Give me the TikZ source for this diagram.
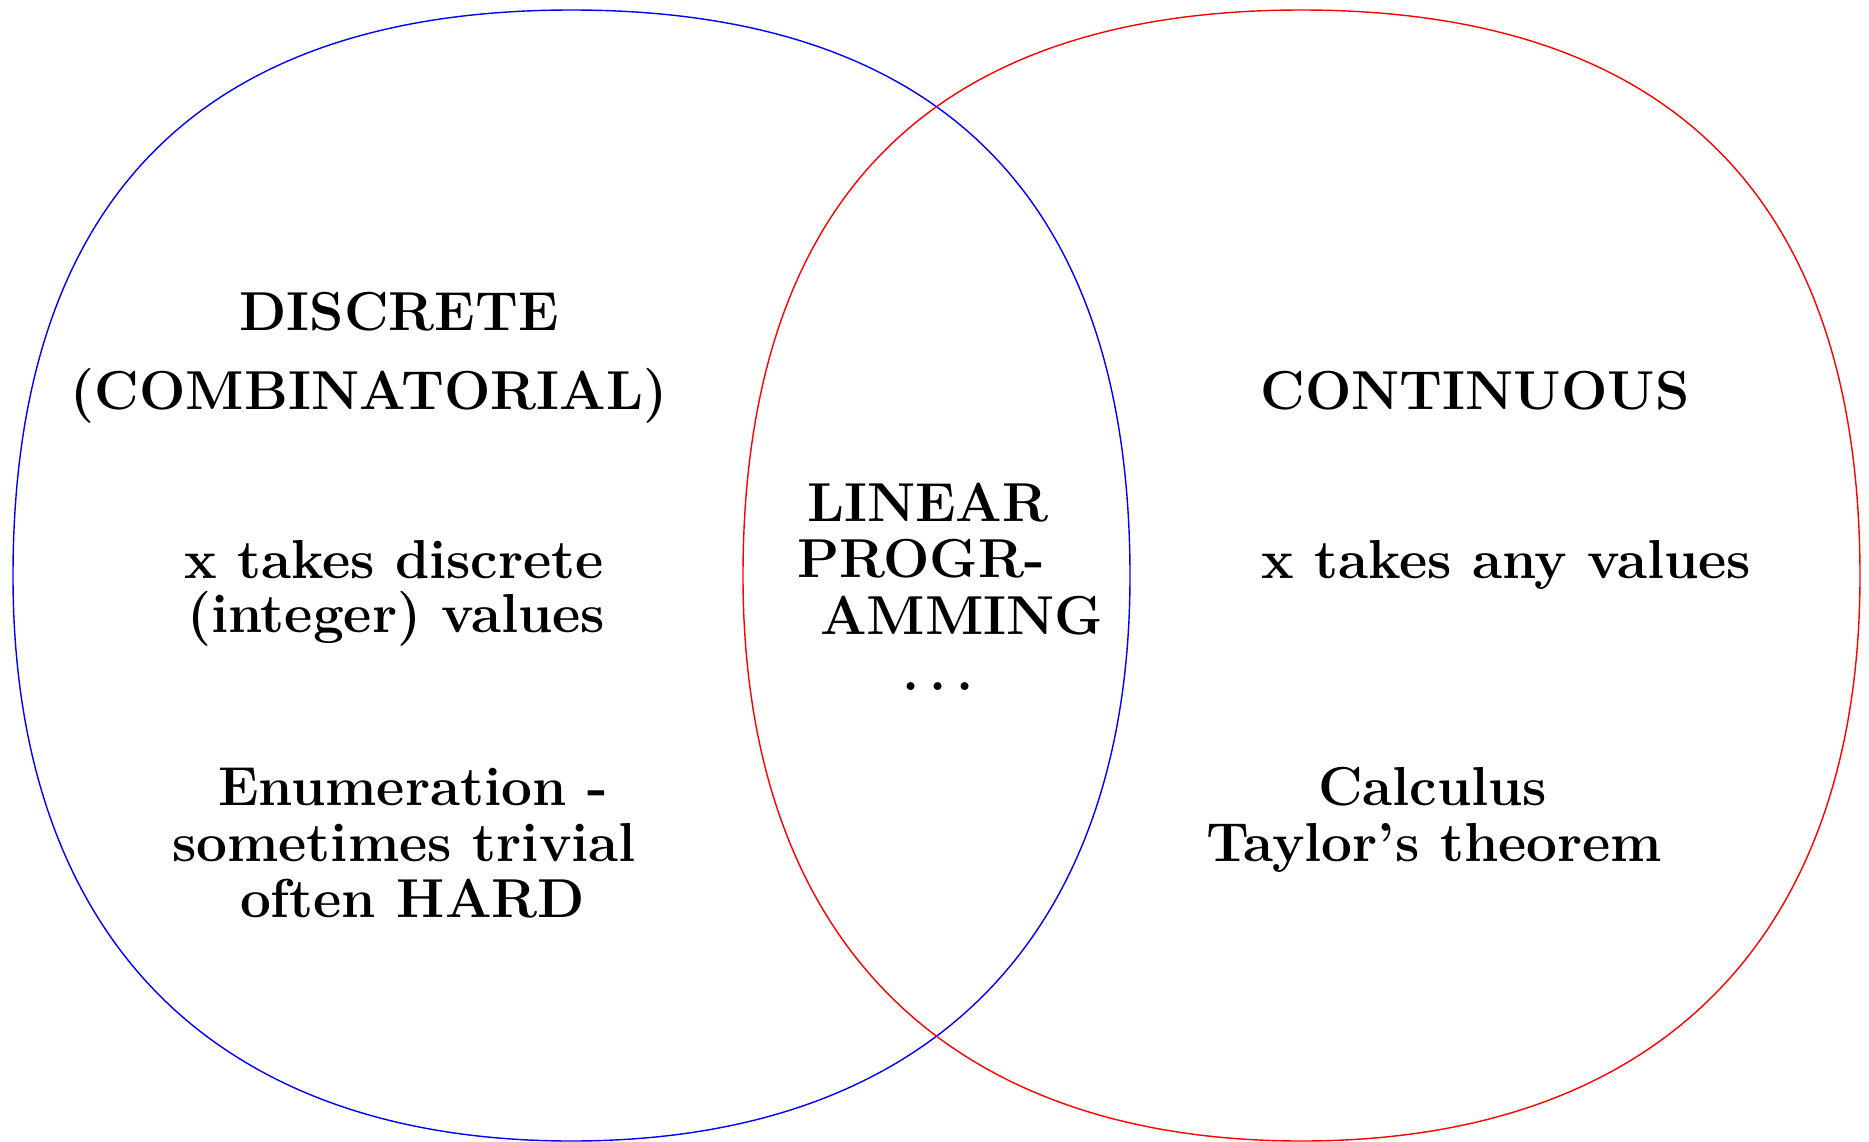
\documentclass[tikz,border=0pt]{standalone}
\begin{document}
\begin{tikzpicture}[x=0.01cm,y=-0.01cm,
  lbl/.style={inner sep=0pt,outer sep=0pt,anchor=base west,font=\fontsize{15.6}{18}\selectfont\bfseries},
  lblc/.style={lbl,anchor=base},
  setline/.style={line width=0.4pt}]
\path[use as bounding box] (0,0) rectangle (1869,1142);
% blue set
\begin{scope}[shift={(571.5,576)}]
\draw[setline,blue] (558.5,0) .. controls (558.5,-375.8) and (370.8,-566) .. (0,-566)
  .. controls (-370.8,-566) and (-558.5,-375.8) .. (-558.5,0)
  .. controls (-558.5,361.6) and (-357.4,565) .. (0,565)
  .. controls (357.4,565) and (558.5,361.6) .. cycle;
\end{scope}
% red set
\begin{scope}[shift={(1301.5,576)}]
\draw[setline,red] (558.5,0) .. controls (558.5,-375.8) and (370.8,-566) .. (0,-566)
  .. controls (-370.8,-566) and (-558.5,-375.8) .. (-558.5,0)
  .. controls (-558.5,361.6) and (-357.4,565) .. (0,565)
  .. controls (357.4,565) and (558.5,361.6) .. cycle;
\end{scope}
% left texts
\node[lblc] (disc) at (399,330) {DISCRETE};
\node[lblc] (comb) at (369,409) {(COMBINATORIAL)};
\node[lbl] (xd1) at (184,578) {x takes discrete};
\node[lbl] (xd2) at (187,632) {(integer) values};
\node[lbl] (en1) at (218,805) {Enumeration -};
\node[lbl] (en2) at (172,861) {sometimes trivial};
\node[lbl] (en3) at (240,917) {often HARD};
% middle texts
\node[lbl] (lin) at (807,521) {LINEAR};
\node[lbl] (prog) at (797,577) {PROGR-};
\node[lbl] (amm) at (820,634) {AMMING};
\node[lbl] (dots) at (902,690) {.\kern2.9pt.\kern2.9pt.};
% right texts
\node[lblc] (cont) at (1475,409) {CONTINUOUS};
\node[lbl] (xa) at (1261,578) {x takes any values};
\node[lbl] (calc) at (1318,805) {Calculus};
\node[lbl] (tay) at (1206,861) {Taylor's theorem};
\end{tikzpicture}
\end{document}
